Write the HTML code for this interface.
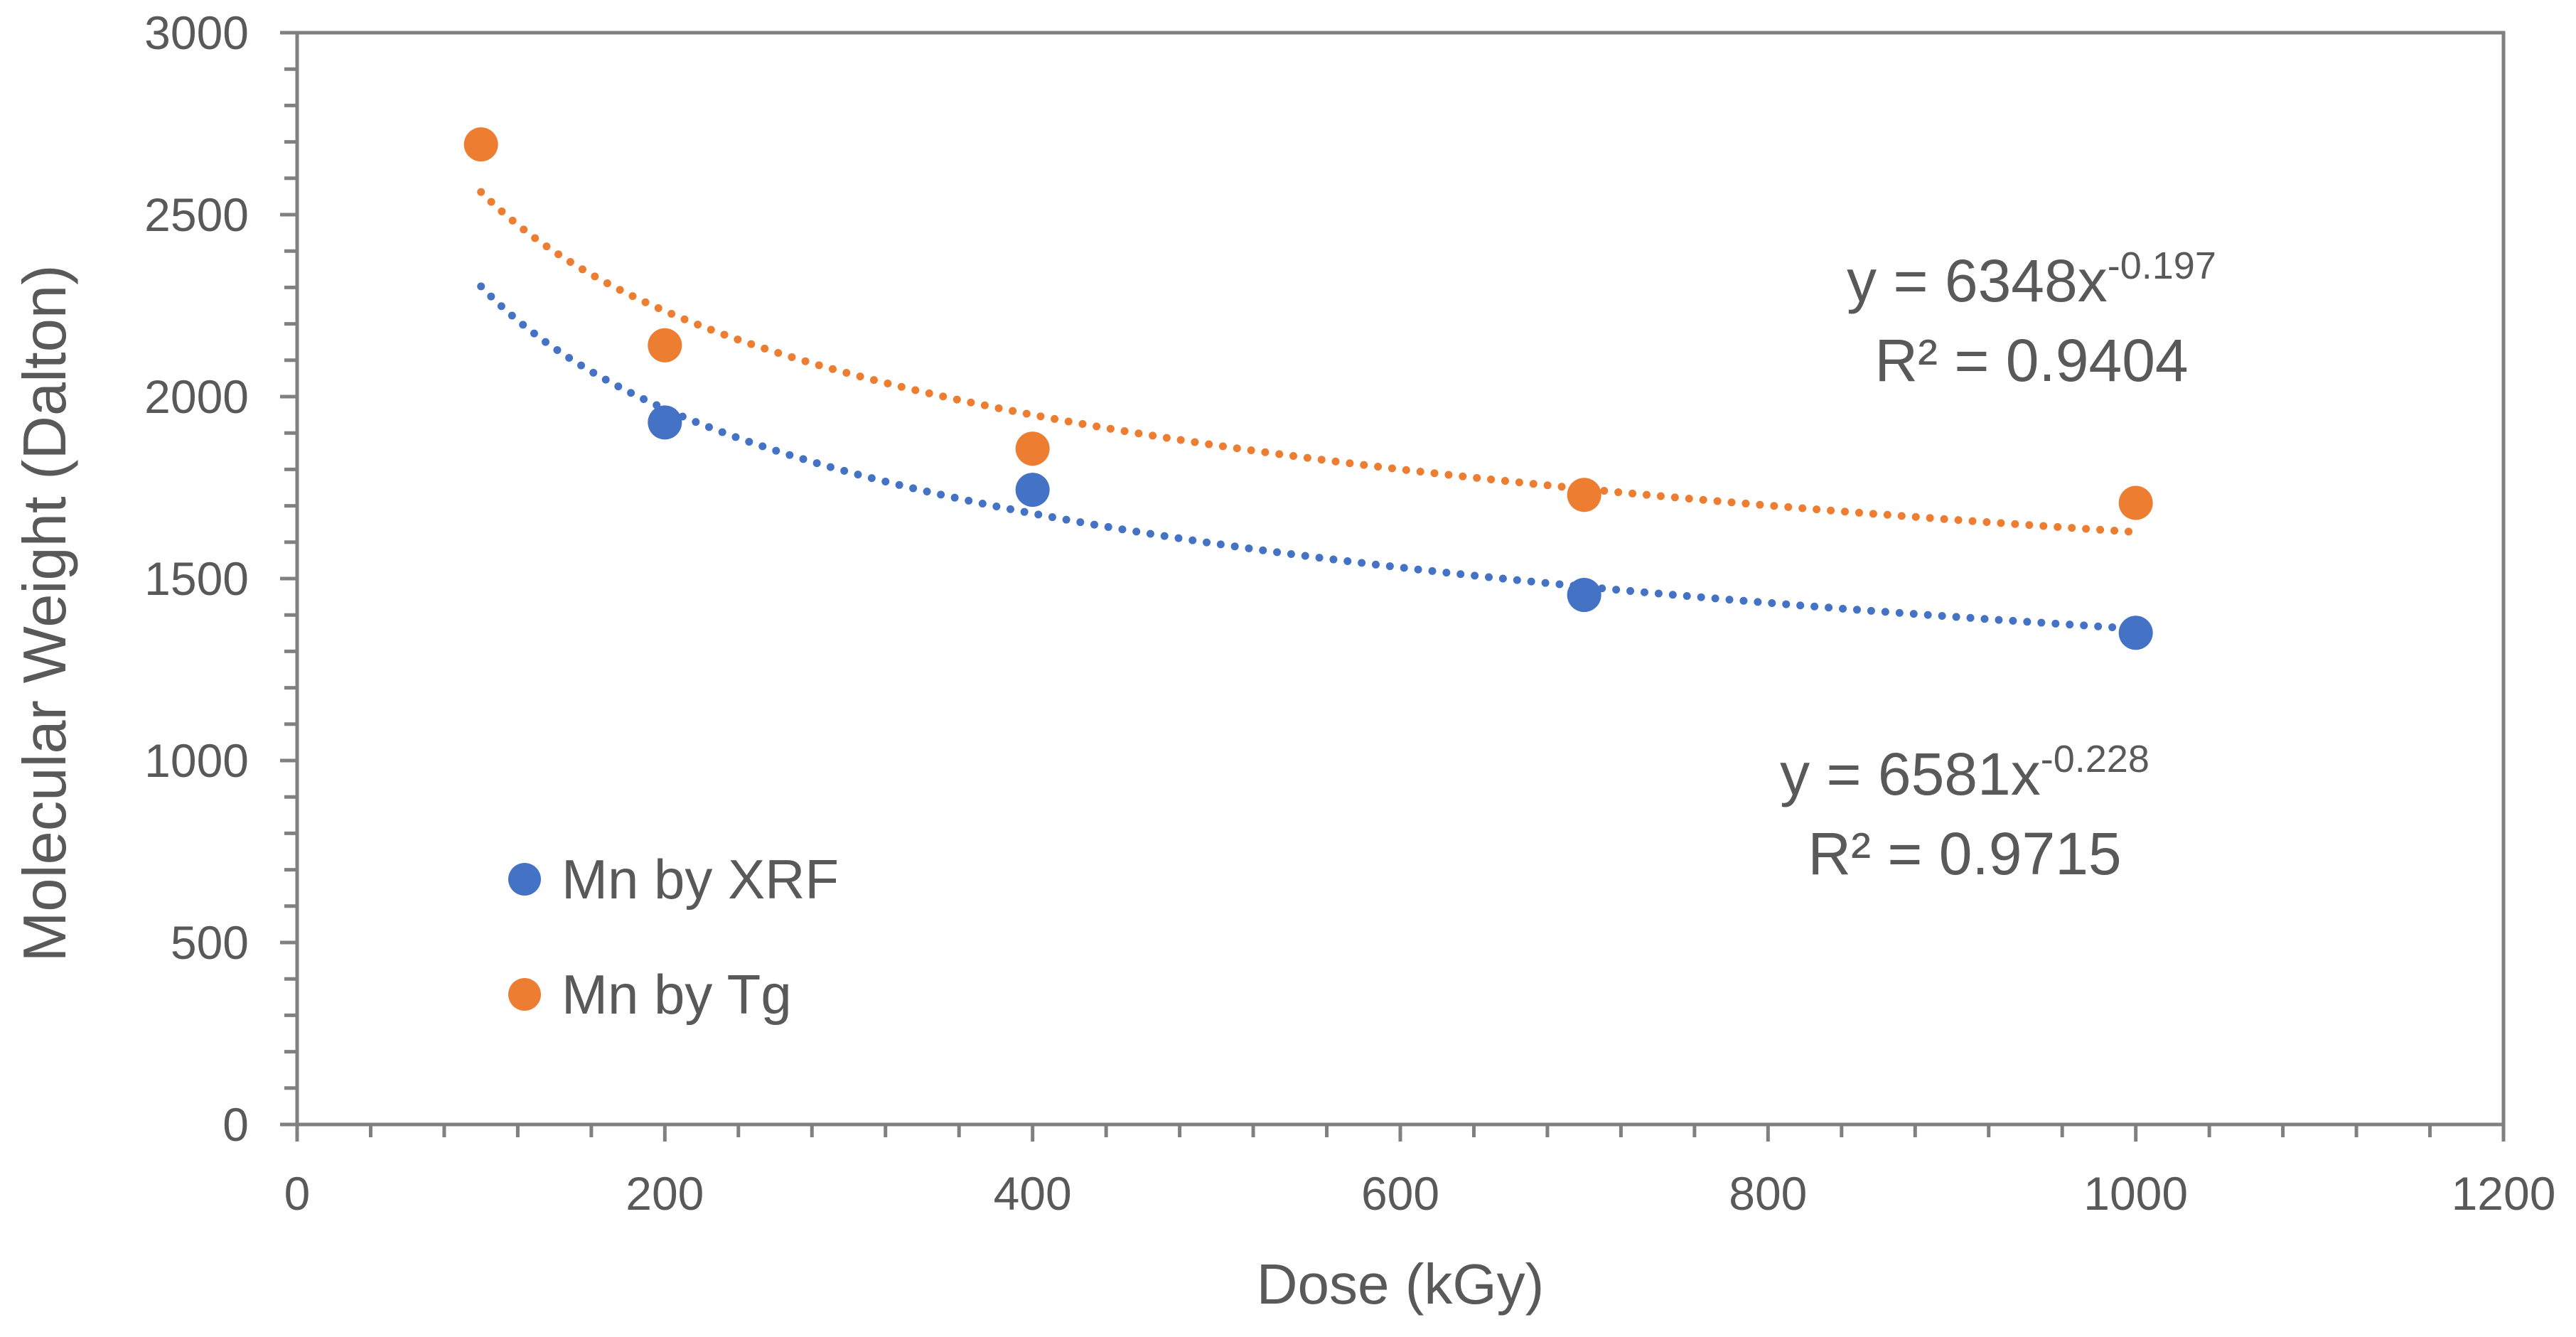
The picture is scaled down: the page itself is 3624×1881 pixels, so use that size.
<!DOCTYPE html>
<html><head><meta charset="utf-8"><style>
html,body{margin:0;padding:0;background:#fff;}
svg{display:block;font-family:"Liberation Sans",sans-serif;}
</style></head><body>
<svg id="chart" width="3624" height="1881" viewBox="0 0 3624 1881" xmlns="http://www.w3.org/2000/svg">
<g id="axes"></g>
<g id="trends"></g>
<g id="marks"></g>
<text x="1970" y="1834" font-size="80" fill="#595959" text-anchor="middle">Dose (kGy)</text>
<text transform="translate(92,863) rotate(-90)" font-size="85" fill="#595959" text-anchor="middle">Molecular Weight (Dalton)</text>
<g>
<circle cx="738" cy="1237" r="23" fill="#4472C4"/>
<text x="790" y="1264" font-size="78" fill="#595959">Mn by XRF</text>
<circle cx="738" cy="1399" r="23" fill="#ED7D31"/>
<text x="790" y="1426" font-size="78" fill="#595959">Mn by Tg</text>
</g>
<text x="2858" y="424" font-size="84" fill="#595959" text-anchor="middle">y = 6348x<tspan dy="-32" font-size="54">-0.197</tspan></text>
<text x="2858" y="536" font-size="84" fill="#595959" text-anchor="middle">R² = 0.9404</text>
<text x="2764" y="1118" font-size="84" fill="#595959" text-anchor="middle">y = 6581x<tspan dy="-32" font-size="54">-0.228</tspan></text>
<text x="2764" y="1230" font-size="84" fill="#595959" text-anchor="middle">R² = 0.9715</text>
</svg>
<script>
const xrfDose = [200, 400, 700, 1000];
const xrfMn = [1929, 1744, 1455, 1351];
const tgDose = [100, 200, 400, 700, 1000];
const tgMn = [2693, 2141, 1857, 1730, 1708];
const xTicks = [0, 200, 400, 600, 800, 1000, 1200];
const yTicks = [0, 500, 1000, 1500, 2000, 2500, 3000];
const fitXrf = [6581, -0.228];
const fitTg = [6348, -0.197];

const NS = "http://www.w3.org/2000/svg";
const L = 418, R = 3522, T = 46, B = 1582;
const xs = v => L + (v - 0) / 1200 * (R - L);
const ys = v => B - v / 3000 * (B - T);
function mk(tag, attrs, parent) {
  const e = document.createElementNS(NS, tag);
  for (const k in attrs) e.setAttribute(k, attrs[k]);
  parent.appendChild(e); return e;
}
const axes = document.getElementById('axes');
const gray = '#808080';
for (let v = 0; v <= 3000; v += 100) {
  const major = v % 500 === 0;
  const t = mk('line', {x1: major ? L - 24 : L - 18, x2: L, y1: ys(v), y2: ys(v), stroke: gray, 'stroke-width': 5}, axes);
  
  
}
for (let v = 0; v <= 1200; v += 40) {
  const major = v % 200 === 0;
  const t = mk('line', {x1: xs(v), x2: xs(v), y1: B, y2: major ? B + 24 : B + 18, stroke: gray, 'stroke-width': 5}, axes);
  
  
}
const frame = mk('rect', {x: L, y: T, width: R - L, height: B - T, fill: 'none', stroke: gray, 'stroke-width': 5}, axes);


yTicks.forEach(v => {
  const t = mk('text', {x: 350, y: ys(v) + 23, 'font-size': 66, fill: '#595959', 'text-anchor': 'end'}, axes);
  t.textContent = v;
  
  
});
xTicks.forEach(v => {
  const t = mk('text', {x: xs(v), y: 1702, 'font-size': 66, fill: '#595959', 'text-anchor': 'middle'}, axes);
  t.textContent = v;
  
  
});
const trends = document.getElementById('trends');
function trend(fit, color, name) {
  let d = '';
  for (let x = 100; x <= 1000; x += 5) {
    d += (x === 100 ? 'M' : 'L') + xs(x).toFixed(1) + ',' + ys(fit[0] * Math.pow(x, fit[1])).toFixed(1);
  }
  const p = mk('path', {d: d, fill: 'none', stroke: color, 'stroke-width': 11, 'stroke-linecap': 'round', 'stroke-dasharray': '0 20'}, trends);
  
  
}
trend(fitTg, '#ED7D31', 'trendline-tg');
trend(fitXrf, '#4472C4', 'trendline-xrf');
const marks = document.getElementById('marks');
tgDose.forEach((x, i) => {
  const c = mk('circle', {cx: xs(x), cy: ys(tgMn[i]), r: 24, fill: '#ED7D31'}, marks);
  
  
});
xrfDose.forEach((x, i) => {
  const c = mk('circle', {cx: xs(x), cy: ys(xrfMn[i]), r: 24, fill: '#4472C4'}, marks);
  
  
});
</script>
</body></html>
